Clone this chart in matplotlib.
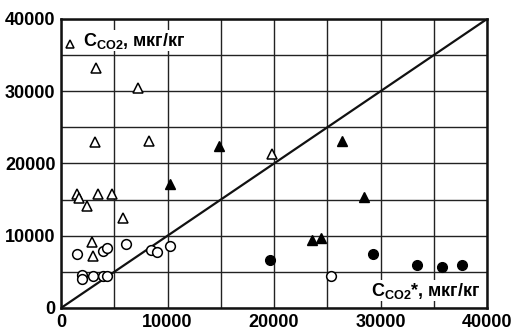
import matplotlib
matplotlib.use("Agg")
import matplotlib.pyplot as plt
from matplotlib.ticker import MultipleLocator

plt.rcParams['font.family'] = ['Liberation Sans', 'DejaVu Sans']
plt.rcParams['font.weight'] = 'bold'

# open triangles
ot_x = [1530, 1690, 2470, 3470, 4760, 5850, 2940, 2970, 3250, 7260, 3160, 8230, 19840]
ot_y = [15740, 15180, 14160, 15740, 15740, 12500, 9180, 7150, 33260, 30400, 23020, 23160, 21270]
# filled triangles
ft_x = [10200, 14830, 26350, 28420, 23600, 24440]
ft_y = [17160, 22460, 23110, 15320, 9410, 9730]
# open circles
oc_x = [1500, 1970, 1970, 2970, 3970, 4350, 3910, 4350, 6070, 8420, 9040, 10200, 25350]
oc_y = [7520, 4500, 4050, 4380, 4470, 4380, 7890, 8350, 8810, 7980, 7700, 8620, 4380]
# filled circles
fc_x = [19620, 29330, 33430, 35800, 37620]
fc_y = [6600, 7470, 5950, 5670, 5950]

fig = plt.figure(figsize=(5.15, 3.36), dpi=100)
ax = fig.add_axes([61/515, 1-308/336, 426/515, 289/336])
ax.set_xlim(0, 40000)
ax.set_ylim(0, 40000)
ax.xaxis.set_major_locator(MultipleLocator(10000))
ax.yaxis.set_major_locator(MultipleLocator(10000))
ax.xaxis.set_minor_locator(MultipleLocator(5000))
ax.yaxis.set_minor_locator(MultipleLocator(5000))
ax.grid(True, which='both', color='#222222', linewidth=1.0)
ax.set_axisbelow(True)
ax.tick_params(which='both', length=0, labelsize=13, pad=4)
for lbl in ax.get_xticklabels() + ax.get_yticklabels():
    lbl.set_fontweight('bold')
for s in ax.spines.values():
    s.set_linewidth(1.8)
    s.set_color('#111111')

ax.plot([0, 40000], [0, 40000], color='#111111', linewidth=1.6, zorder=2)

ax.plot(ot_x, ot_y, linestyle='none', marker='^', ms=6.5, mfc='white', mec='black', mew=1.1, zorder=3)
ax.plot(ft_x, ft_y, linestyle='none', marker='^', ms=7, mfc='black', mec='black', zorder=3)
ax.plot(oc_x, oc_y, linestyle='none', marker='o', ms=7, mfc='white', mec='black', mew=1.1, zorder=3)
ax.plot(fc_x, fc_y, linestyle='none', marker='o', ms=7, mfc='black', mec='black', zorder=3)

# labels
ax.plot([850], [36600], linestyle='none', marker='^', ms=6, mfc='white', mec='black', mew=1.1, zorder=4, clip_on=False)
ax.text(0.052, 0.96, r'C$_{\mathregular{CO2}}$, мкг/кг', transform=ax.transAxes,
        fontsize=13, fontweight='bold', ha='left', va='top',
        bbox=dict(facecolor='white', edgecolor='none', pad=0.5))
ax.text(0.985, 0.025, r'C$_{\mathregular{CO2}}$*, мкг/кг', transform=ax.transAxes,
        fontsize=13, fontweight='bold', ha='right', va='bottom',
        bbox=dict(facecolor='white', edgecolor='none', pad=0.5))

fig.savefig('out.png', dpi=100)
